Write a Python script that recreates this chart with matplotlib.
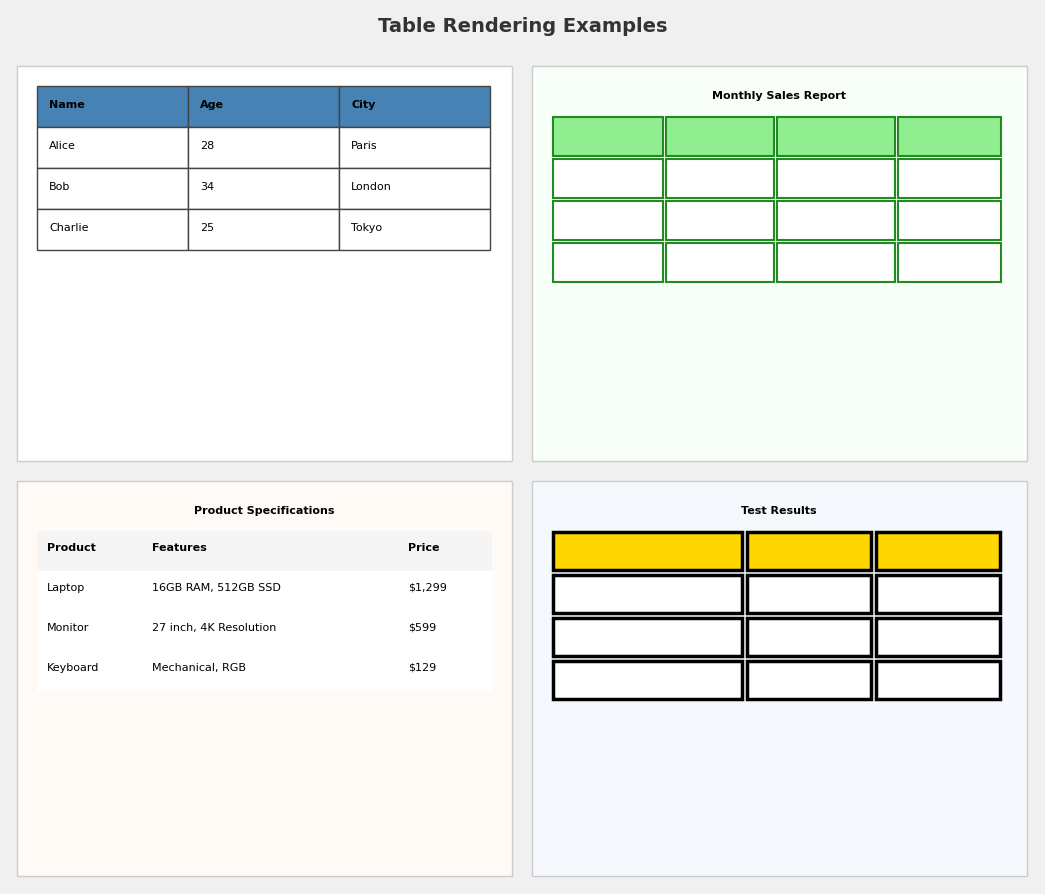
import matplotlib.pyplot as plt
from matplotlib.patches import Rectangle

# table contents
people_cols = ['Name', 'Age', 'City']
people_rows = [['Alice', '28', 'Paris'], ['Bob', '34', 'London'], ['Charlie', '25', 'Tokyo']]
product_cols = ['Product', 'Features', 'Price']
product_rows = [['Laptop', '16GB RAM, 512GB SSD', '$1,299'],
                ['Monitor', '27 inch, 4K Resolution', '$599'],
                ['Keyboard', 'Mechanical, RGB', '$129']]
sales_shape = (4, 4)
test_shape = (4, 3)

fig = plt.figure(figsize=(10.45, 8.95), dpi=100)
fig.patch.set_facecolor('#f0f0f0')
ax = fig.add_axes([0, 0, 1, 1])
ax.set_xlim(0, 1045)
ax.set_ylim(895, 0)
ax.axis('off')

fig.text(0.5, 1 - 27 / 895, 'Table Rendering Examples', ha='center', va='center',
         fontsize=14, fontweight='bold', color='#333333')

# panels
panels = [(17, 67, '#ffffff'), (532, 67, '#f8fff8'), (17, 482, '#fffaf5'), (532, 482, '#f5f9fd')]
for x, y, c in panels:
    ax.add_patch(Rectangle((x, y), 495, 395, facecolor=c, edgecolor='#cccccc', lw=1))


def grid(x_edges, y_edges, gap, head, body, edge, lw):
    for r in range(len(y_edges) - 1):
        for c in range(len(x_edges) - 1):
            x0, x1 = x_edges[c], x_edges[c + 1] - gap
            y0, y1 = y_edges[r], y_edges[r + 1] - gap
            ax.add_patch(Rectangle((x0, y0), x1 - x0, y1 - y0,
                                   facecolor=head if r == 0 else body, edgecolor=edge, lw=lw))


# top left: simple table
xs = [37, 188, 339, 490]
ys = [87, 128, 169, 210, 251]
grid(xs, ys, 0, '#4682b4', 'white', '#444444', 1)
for r, row in enumerate([people_cols] + people_rows):
    for c, txt in enumerate(row):
        ax.text(xs[c] + 12, ys[r] + 18, txt, va='center', fontsize=8,
                fontweight='bold' if r == 0 else 'normal', color='black')

# top right: monthly sales
ax.text(779, 96, 'Monthly Sales Report', ha='center', va='center', fontsize=8, fontweight='bold')
grid([553, 666, 777, 898, 1004][:sales_shape[1] + 1], [118, 160, 202, 244, 286][:sales_shape[0] + 1],
     3, '#90ee90', 'white', '#228b22', 1.5)

# bottom left: product specs
ax.text(264, 511, 'Product Specifications', ha='center', va='center', fontsize=8, fontweight='bold')
ax.add_patch(Rectangle((37, 532), 455, 40, facecolor='#f5f5f5', edgecolor='none'))
ax.add_patch(Rectangle((37, 572), 455, 120, facecolor='white', edgecolor='none'))
pxs = [47, 152, 408]
for r, row in enumerate([product_cols] + product_rows):
    for c, txt in enumerate(row):
        ax.text(pxs[c], 548 + 40 * r, txt, va='center', fontsize=8,
                fontweight='bold' if r == 0 else 'normal', color='black')

# bottom right: test results
ax.text(779, 511, 'Test Results', ha='center', va='center', fontsize=8, fontweight='bold')
grid([553, 747, 876, 1005][:test_shape[1] + 1], [533, 576, 619, 662, 705][:test_shape[0] + 1],
     5, '#ffd700', 'white', 'black', 2.5)

fig.savefig('out.png', dpi=100, facecolor=fig.get_facecolor())
